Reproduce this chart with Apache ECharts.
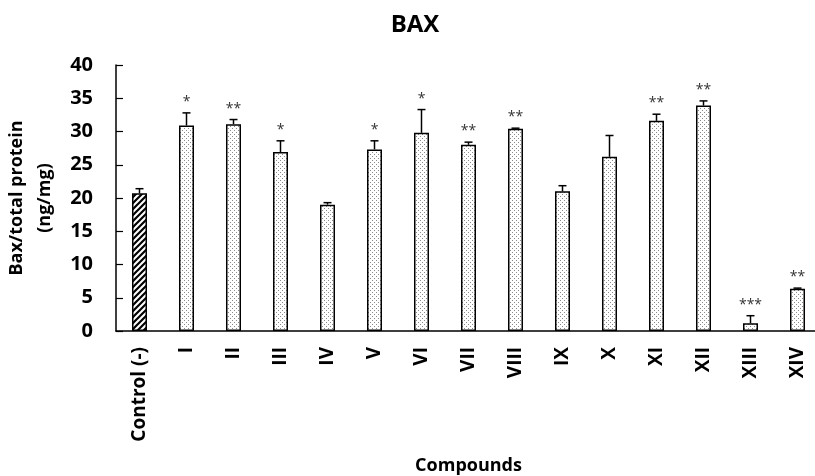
<!DOCTYPE html>
<html>
<head>
<meta charset="utf-8">
<script src="https://cdn.jsdelivr.net/npm/echarts@6/dist/echarts.min.js"></script>
<style>
html,body{margin:0;padding:0;background:#fff;}
#chart{width:815px;height:476px;}
</style>
</head>
<body>
<div id="chart"></div>
<script>
var categories = ['Control (-)', 'I', 'II', 'III', 'IV', 'V', 'VI', 'VII', 'VIII', 'IX', 'X', 'XI', 'XII', 'XIII', 'XIV'];
var values = [20.7, 30.9, 31.1, 26.9, 19.0, 27.3, 29.8, 28.0, 30.4, 21.0, 26.2, 31.6, 33.9, 1.15, 6.35];
var errors = [0.7, 1.9, 0.7, 1.7, 0.3, 1.3, 3.5, 0.4, 0.1, 0.85, 3.2, 1.0, 0.7, 1.15, 0.1];
var stars = ['', '*', '**', '*', '', '*', '*', '**', '**', '', '', '**', '**', '***', '**'];
var yTicks = [0, 5, 10, 15, 20, 25, 30, 35, 40];

function makeDots() {
  var c = document.createElement('canvas');
  c.width = 4; c.height = 4;
  var g = c.getContext('2d');
  g.fillStyle = '#ffffff'; g.fillRect(0, 0, 4, 4);
  g.fillStyle = '#8a8a8a';
  g.fillRect(0, 0, 1, 1);
  g.fillRect(2, 2, 1, 1);
  return c;
}
function makeHatch() {
  var s = 6;
  var c = document.createElement('canvas');
  c.width = s; c.height = s;
  var g = c.getContext('2d');
  g.fillStyle = '#ffffff'; g.fillRect(0, 0, s, s);
  g.strokeStyle = '#000000'; g.lineWidth = 2.2;
  g.beginPath();
  g.moveTo(-1, s + 1); g.lineTo(s + 1, -1);
  g.moveTo(-1, 1); g.lineTo(1, -1);
  g.moveTo(s - 1, s + 1); g.lineTo(s + 1, s - 1);
  g.stroke();
  return c;
}
var dotPat = { image: makeDots(), repeat: 'repeat' };
var hatchPat = { image: makeHatch(), repeat: 'repeat' };

var barData = values.map(function (v, i) {
  return { value: v, itemStyle: { color: i === 0 ? hatchPat : dotPat } };
});
var errData = values.map(function (v, i) { return [i, v, errors[i], stars[i]]; });

var chart = echarts.init(document.getElementById('chart'), null, { renderer: 'canvas' });
var font = 'Open Sans';
chart.setOption({
  animation: false,
  backgroundColor: '#ffffff',
  title: {
    text: 'BAX', left: 410, top: 8, textAlign: 'center',
    textStyle: { fontFamily: font, fontWeight: 'bold', fontSize: 24, color: '#000' }
  },
  grid: { left: 116, right: -6, top: 65, bottom: 145, containLabel: false, outerBoundsMode: 'none' },
  xAxis: {
    type: 'category', data: categories,
    name: 'Compounds', nameLocation: 'middle', nameGap: 126,
    nameTextStyle: { fontFamily: font, fontWeight: 'bold', fontSize: 18, color: '#000' },
    axisLine: { lineStyle: { color: '#000', width: 1.5 } },
    axisTick: { inside: true, length: 7, lineStyle: { color: '#000', width: 1.2 } },
    axisLabel: { rotate: 90, margin: 16, fontFamily: font, fontWeight: 'bold', fontSize: 19, color: '#000' }
  },
  yAxis: {
    type: 'value', min: 0, max: 40, interval: 5,
    name: 'Bax/total protein\n(ng/mg)', nameLocation: 'middle', nameGap: 51,
    nameTextStyle: { fontFamily: font, fontWeight: 'bold', fontSize: 18, color: '#000', lineHeight: 28 },
    axisLine: { show: true, lineStyle: { color: '#000', width: 1.5 } },
    axisTick: { show: true, inside: true, length: 7, lineStyle: { color: '#000', width: 1.2 } },
    splitLine: { show: false },
    axisLabel: {
      margin: 23, fontFamily: font, fontWeight: 'bold', fontSize: 20, color: '#000',
      formatter: function (v) { return yTicks.indexOf(v) >= 0 ? String(v) : ''; }
    }
  },
  series: [
    {
      type: 'bar', data: barData, barWidth: 15,
      itemStyle: { borderColor: '#000', borderWidth: 1.5 }
    },
    {
      type: 'custom', data: errData, z: 5,
      renderItem: function (params, api) {
        var x = api.value(0), v = api.value(1), e = api.value(2);
        var s = stars[params.dataIndex];
        var p0 = api.coord([x, v]);
        var p1 = api.coord([x, v + e]);
        var cap = 4;
        var children = [
          { type: 'line', shape: { x1: p0[0], y1: p0[1], x2: p1[0], y2: p1[1] }, style: { stroke: '#000', lineWidth: 1.5 } },
          { type: 'line', shape: { x1: p1[0] - cap, y1: p1[1], x2: p1[0] + cap, y2: p1[1] }, style: { stroke: '#000', lineWidth: 1.5 } }
        ];
        if (s) {
          children.push({
            type: 'text',
            style: {
              text: s, x: p1[0], y: p1[1] - 4, align: 'center', verticalAlign: 'bottom',
              fontFamily: font, fontSize: 14, fill: '#333'
            }
          });
        }
        return { type: 'group', children: children };
      }
    }
  ]
});
</script>
</body>
</html>
